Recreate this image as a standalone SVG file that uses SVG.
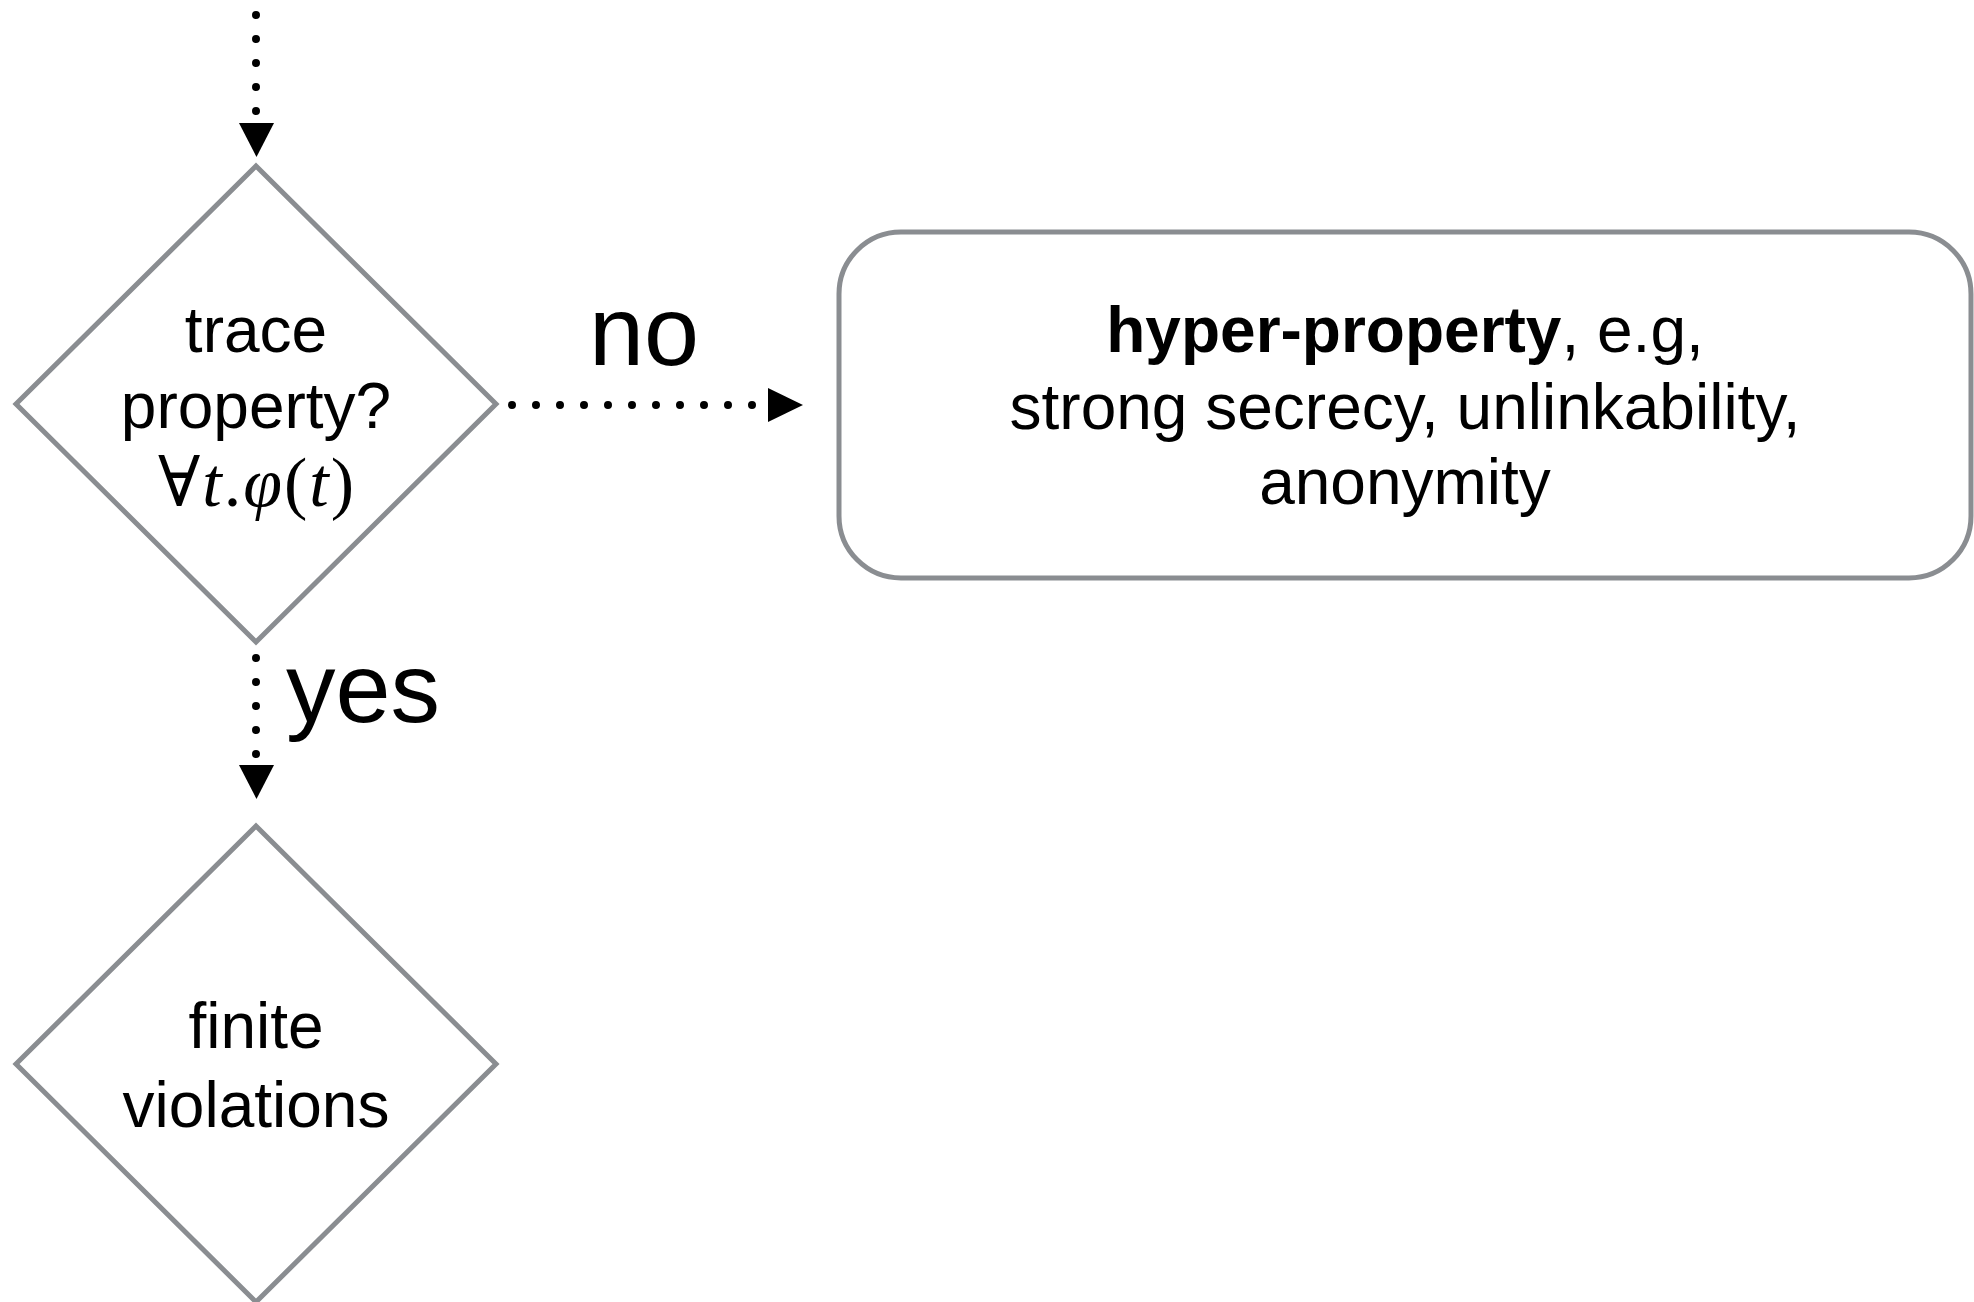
<svg xmlns="http://www.w3.org/2000/svg" width="1974" height="1302" viewBox="0 0 1974 1302">
<style>
.node{fill:#ffffff;stroke:#8a8d91;stroke-width:5}
.dots{fill:none;stroke:#000000;stroke-width:8;stroke-linecap:round;stroke-dasharray:0 24}
.head{fill:#000000;stroke:none}
.t{font-family:"Liberation Sans",Arial,sans-serif;font-size:64px;fill:#000000;text-anchor:middle}
.lbl{font-family:"Liberation Sans",Arial,sans-serif;font-size:99px;fill:#000000}
.math{font-family:"Liberation Serif","DejaVu Serif",serif;font-size:70px;fill:#000000;text-anchor:middle}
.it{font-style:italic}
</style>
<rect width="1974" height="1302" fill="#ffffff"/>
<g id="connectors">
  <line class="dots" x1="256" y1="15" x2="256" y2="112"/>
  <polygon class="head" points="239,123 274,123 256.5,157"/>
  <line class="dots" x1="512" y1="405" x2="753" y2="405"/>
  <polygon class="head" points="768,388 803,405 768,422"/>
  <text class="lbl" x="644" y="365" text-anchor="middle">no</text>
  <line class="dots" x1="256" y1="658" x2="256" y2="755"/>
  <polygon class="head" points="239,765 274,765 256.5,799"/>
  <text class="lbl" x="286" y="722">yes</text>
</g>
<g id="node-trace-property">
  <polygon class="node" points="256,166 496,404 256,642 16,404"/>
  <text class="t" x="256" y="352">trace</text>
  <text class="t" x="256" y="428">property?</text>
  <text class="math" x="256" y="506" textLength="196" lengthAdjust="spacing">∀<tspan class="it">t</tspan>.<tspan class="it">φ</tspan>(<tspan class="it">t</tspan>)</text>
</g>
<g id="node-hyper-property">
  <rect class="node" x="839" y="232" width="1132" height="346" rx="62" ry="62"/>
  <text class="t" x="1405" y="352"><tspan font-weight="bold">hyper-property</tspan>, e.g,</text>
  <text class="t" x="1405" y="429">strong secrecy, unlinkability,</text>
  <text class="t" x="1405" y="504">anonymity</text>
</g>
<g id="node-finite-violations">
  <polygon class="node" points="256,826 496,1064 256,1302 16,1064"/>
  <text class="t" x="256" y="1048">finite</text>
  <text class="t" x="256" y="1127">violations</text>
</g>
</svg>
